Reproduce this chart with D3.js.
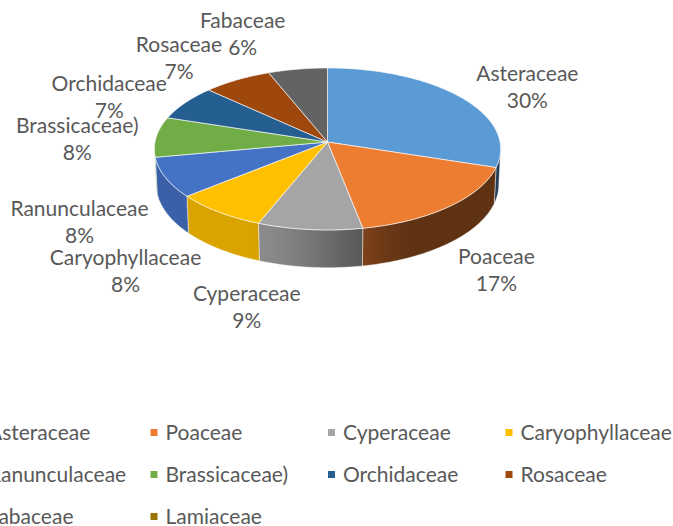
<!DOCTYPE html>
<html>
<head>
<meta charset="utf-8">
<script src="https://cdn.jsdelivr.net/npm/d3@7"></script>
<style>
  html, body { margin: 0; padding: 0; background: #ffffff; }
  svg { display: block; }
</style>
</head>
<body>
<svg id="chart" width="673" height="526"></svg>
<script>
// Plant families and their share of recorded species (%)
const categories = ["Asteraceae", "Poaceae", "Cyperaceae", "Caryophyllaceae", "Ranunculaceae",
                    "Brassicaceae)", "Orchidaceae", "Rosaceae", "Fabaceae", "Lamiaceae"];
const shares = [30, 17, 9, 8, 8, 8, 7, 7, 6, 0];
const percentLabels = ["30%", "17%", "9%", "8%", "8%", "8%", "7%", "7%", "6%", ""];
const palette = ["#5B9BD5", "#ED7D31", "#A5A5A5", "#FFC000", "#4472C4",
                 "#70AD47", "#255E91", "#9E480E", "#636363", "#997300"];

// Label placement relative to the slice's mid-point on the rim (px)
const labelShift = [[67, -16], [47, 58], [-63, 71], [-93, 53], [-86, 38],
                    [-79, -4], [-76, -12], [-58, -28], [-55, -41], [0, 0]];

const svg = d3.select("#chart");
const FONT = "Lato, 'Open Sans', sans-serif";
const FONT_SIZE = 21;
const TEXT = "#595959";

// ---- 3D pie projection ----
const cx = 327.5, cy = 142;     // projected pie centre
const S = 172.5;                // radius scale
const tilt = Math.asin(0.466);  // viewing elevation
const sa = Math.sin(tilt), ca = Math.cos(tilt);
const D = 10.3;                 // camera distance (in radii)
const depth = 0.235;            // pie thickness (in radii)

function proj(theta, r, h) {
  const X = r * Math.sin(theta), Z = r * Math.cos(theta);
  const w = Z * ca - h * sa;
  const p = D / (D + w);
  return [cx + X * p * S, cy - (Z * sa + h * ca) * p * S];
}

const pie = d3.pie().sort(null).value(d => d).startAngle(0).endAngle(2 * Math.PI);
const arcs = pie(shares);

// silhouettes of the rim (where the outer wall turns away)
function extremeTheta(lo, hi, sign) {
  let best = lo, bestX = -Infinity;
  for (let t = lo; t <= hi; t += 0.001) {
    const x = sign * proj(t, 1, 0)[0];
    if (x > bestX) { bestX = x; best = t; }
  }
  return best;
}
const thetaR = extremeTheta(1.2, 2.2, 1);
const thetaL = extremeTheta(4.0, 5.2, -1);

function shade(theta) {
  const deg = theta * 180 / Math.PI;
  const t = Math.max(0, Math.min(1, (deg - 150) / 55));
  const s = t * t * (3 - 2 * t);
  return 0.40 + 0.45 * s;
}
function scaled(col, f) {
  const c = d3.rgb(col);
  return d3.rgb(c.r * f, c.g * f, c.b * f).formatHex();
}

const defs = svg.append("defs");
const gWalls = svg.append("g");
const gTops = svg.append("g");
const gLabels = svg.append("g");

const STEP = Math.PI / 360;

function arcPoints(a, b, h) {
  const pts = [];
  const n = Math.max(2, Math.ceil((b - a) / STEP));
  for (let i = 0; i <= n; i++) pts.push(proj(a + (b - a) * i / n, 1, h));
  return pts;
}

// outer walls (front side only)
arcs.forEach((d, i) => {
  const a = Math.max(d.startAngle, thetaR), b = Math.min(d.endAngle, thetaL);
  if (b - a <= 1e-6) return;
  const top = arcPoints(a, b, 0);
  const bot = arcPoints(a, b, -depth).reverse();
  const pts = top.concat(bot);
  const xa = proj(a, 1, 0)[0], xb = proj(b, 1, 0)[0];
  const gid = "wall" + i;
  const grad = defs.append("linearGradient").attr("id", gid)
    .attr("gradientUnits", "userSpaceOnUse")
    .attr("x1", xa).attr("y1", 0).attr("x2", xb).attr("y2", 0);
  const k = 8;
  for (let j = 0; j <= k; j++) {
    const t = a + (b - a) * j / k;
    const off = (proj(t, 1, 0)[0] - xa) / (xb - xa || 1);
    grad.append("stop").attr("offset", Math.max(0, Math.min(1, off)))
      .attr("stop-color", scaled(palette[i], shade(t)));
  }
  gWalls.append("path")
    .attr("d", d3.line()(pts) + "Z")
    .attr("fill", `url(#${gid})`)
    .attr("stroke", "#ffffff").attr("stroke-opacity", 0.55).attr("stroke-width", 0.8)
    .attr("stroke-linejoin", "round");
});

// top faces
arcs.forEach((d, i) => {
  if (d.endAngle - d.startAngle <= 1e-6) return;
  const pts = [proj(0, 0, 0)].concat(arcPoints(d.startAngle, d.endAngle, 0));
  gTops.append("path")
    .attr("d", d3.line()(pts) + "Z")
    .attr("fill", palette[i])
    .attr("stroke", "#ffffff").attr("stroke-opacity", 0.7).attr("stroke-width", 0.9)
    .attr("stroke-linejoin", "round");
});

// data labels
arcs.forEach((d, i) => {
  if (!percentLabels[i]) return;
  const mid = (d.startAngle + d.endAngle) / 2;
  const [mx, my] = proj(mid, 1, 0);
  const x = mx + labelShift[i][0], y = my + labelShift[i][1];
  const t = gLabels.append("text")
    .attr("x", x).attr("y", y)
    .attr("text-anchor", "middle")
    .attr("font-family", FONT).attr("font-size", FONT_SIZE)
    .attr("fill", TEXT);
  t.append("tspan").attr("x", x).attr("y", y).text(categories[i]);
  t.append("tspan").attr("x", x).attr("y", y + 27).text(percentLabels[i]);
});

// legend
const legend = svg.append("g");
const colW = 177.5, rowH = 42, col0 = -27, row0 = 440;
categories.forEach((name, i) => {
  const c = i % 4, r = Math.floor(i / 4);
  const x = col0 + c * colW, y = row0 + r * rowH;
  legend.append("rect").attr("x", x).attr("y", y - 11).attr("width", 7).attr("height", 7)
    .attr("fill", palette[i]);
  legend.append("text").attr("x", x + 15).attr("y", y)
    .attr("font-family", FONT).attr("font-size", FONT_SIZE)
    .attr("fill", TEXT).text(name);
});
</script>
</body>
</html>
